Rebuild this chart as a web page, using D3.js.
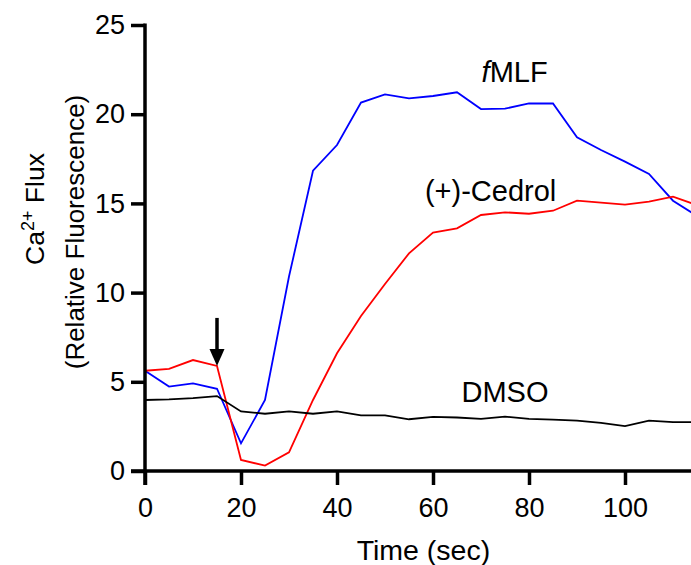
<!DOCTYPE html>
<html>
<head>
<meta charset="utf-8">
<script src="https://cdn.jsdelivr.net/npm/d3@7"></script>
<style>
  body { margin: 0; background: #fff; }
  svg text { font-family: Arial, "Liberation Sans", sans-serif; fill: #000; }
</style>
</head>
<body>
<div id="chart"></div>
<script>
// time points (sec)
var times = [0, 5, 10, 15, 20, 25, 30, 35, 40, 45, 50, 55, 60, 65, 70, 75, 80, 85, 90, 95, 100, 105, 110, 115];

// relative fluorescence values
var fmlf = [5.62, 4.73, 4.91, 4.61, 1.55, 3.98, 10.9, 16.83, 18.27, 20.65, 21.11, 20.89,
            21.02, 21.23, 20.29, 20.31, 20.61, 20.6, 18.7, 17.99, 17.34, 16.65, 15.15, 14.3];
var cedrol = [5.62, 5.72, 6.22, 5.89, 0.62, 0.3, 1.05, 3.98, 6.6, 8.69, 10.48, 12.2,
              13.36, 13.6, 14.35, 14.5, 14.42, 14.59, 15.15, 15.04, 14.93, 15.1, 15.38, 14.9];
var dmso = [3.98, 4.02, 4.09, 4.2, 3.34, 3.21, 3.34, 3.21, 3.34, 3.12, 3.12, 2.9,
            3.03, 3.0, 2.92, 3.05, 2.92, 2.88, 2.82, 2.7, 2.52, 2.82, 2.74, 2.74];

var xTicks = [0, 20, 40, 60, 80, 100];
var yTicks = [0, 5, 10, 15, 20, 25];

var series = [
    {name: "fMLF", values: fmlf, colour: "#0000ff"},
    {name: "cedrol", values: cedrol, colour: "#ff0000"},
    {name: "dmso", values: dmso, colour: "#000000"}
];

// set the dimensions of the graph
var setWidth = 691, setHeight = 565;
var plotLeft = 145, plotTop = 25, plotBottom = 471;

var svg = d3.select("#chart")
    .append("svg")
    .attr("width", setWidth)
    .attr("height", setHeight);

// scales
var x = d3.scaleLinear().domain([0, 115]).range([plotLeft, plotLeft + 115 * 4.8]);
var y = d3.scaleLinear().domain([0, 25]).range([plotBottom, plotTop]);

// lines
var line = d3.line()
    .x(function (d, i) { return x(times[i]); })
    .y(function (d) { return y(d); });

svg.selectAll(".series")
    .data(series)
    .join("path")
    .attr("class", "series")
    .attr("fill", "none")
    .attr("stroke", function (d) { return d.colour; })
    .attr("stroke-width", 1.8)
    .attr("stroke-linejoin", "miter")
    .attr("d", function (d) { return line(d.values); });

// x axis
var xAxis = svg.append("g")
    .attr("transform", "translate(0," + plotBottom + ")")
    .call(d3.axisBottom(x).tickValues(xTicks).tickSize(14).tickPadding(13).tickFormat(d3.format("d")));
xAxis.select(".domain").attr("stroke-width", 3.5).attr("d", "M" + (plotLeft - 14) + ",0H" + x(115));
xAxis.selectAll(".tick line").attr("stroke-width", 3.5);
xAxis.selectAll(".tick text").style("font-size", "27px").attr("fill", "#000");

// y axis
var yAxis = svg.append("g")
    .attr("transform", "translate(" + plotLeft + ",0)")
    .call(d3.axisLeft(y).tickValues(yTicks).tickSize(14).tickPadding(6));
yAxis.select(".domain").attr("stroke-width", 3.5).attr("d", "M0," + (plotTop - 1.5) + "V" + (plotBottom + 14));
yAxis.selectAll(".tick line").attr("stroke-width", 3.5);
yAxis.selectAll(".tick text").style("font-size", "27px").attr("fill", "#000");

// x axis label
svg.append("text")
    .attr("text-anchor", "middle")
    .attr("x", x(58))
    .attr("y", 560)
    .style("font-size", "28.5px")
    .text("Time (sec)");

// y axis label, two lines
var yl = svg.append("g").attr("transform", "rotate(-90)");
var l1 = yl.append("text")
    .attr("text-anchor", "middle")
    .attr("x", -209)
    .attr("y", 44)
    .style("font-size", "26.5px");
l1.append("tspan").text("Ca");
l1.append("tspan").attr("dy", -10).style("font-size", "18px").text("2+");
l1.append("tspan").attr("dy", 10).text(" Flux");
yl.append("text")
    .attr("text-anchor", "middle")
    .attr("x", -232)
    .attr("y", 84)
    .style("font-size", "26px")
    .text("(Relative Fluorescence)");

// series labels
var labels = [
    {t: 77, v: 21.8, text: "MLF", italic: "f"},
    {t: 72, v: 15.15, text: "(+)-Cedrol"},
    {t: 75, v: 3.85, text: "DMSO"}
];
labels.forEach(function (d) {
    var t = svg.append("text")
        .attr("text-anchor", "middle")
        .attr("x", x(d.t))
        .attr("y", y(d.v))
        .style("font-size", "29px");
    if (d.italic) t.append("tspan").style("font-style", "italic").text(d.italic);
    t.append("tspan").text(d.text);
});

// stimulus arrow at t = 15
var ax = x(15), tipY = y(cedrol[3]);
svg.append("line")
    .attr("x1", ax).attr("x2", ax)
    .attr("y1", tipY - 48).attr("y2", tipY - 14)
    .attr("stroke", "#000")
    .attr("stroke-width", 3.5);
svg.append("path")
    .attr("d", "M" + (ax - 7.5) + "," + (tipY - 17) + "L" + (ax + 7.5) + "," + (tipY - 17) + "L" + ax + "," + tipY + "Z")
    .attr("fill", "#000");
</script>
</body>
</html>
